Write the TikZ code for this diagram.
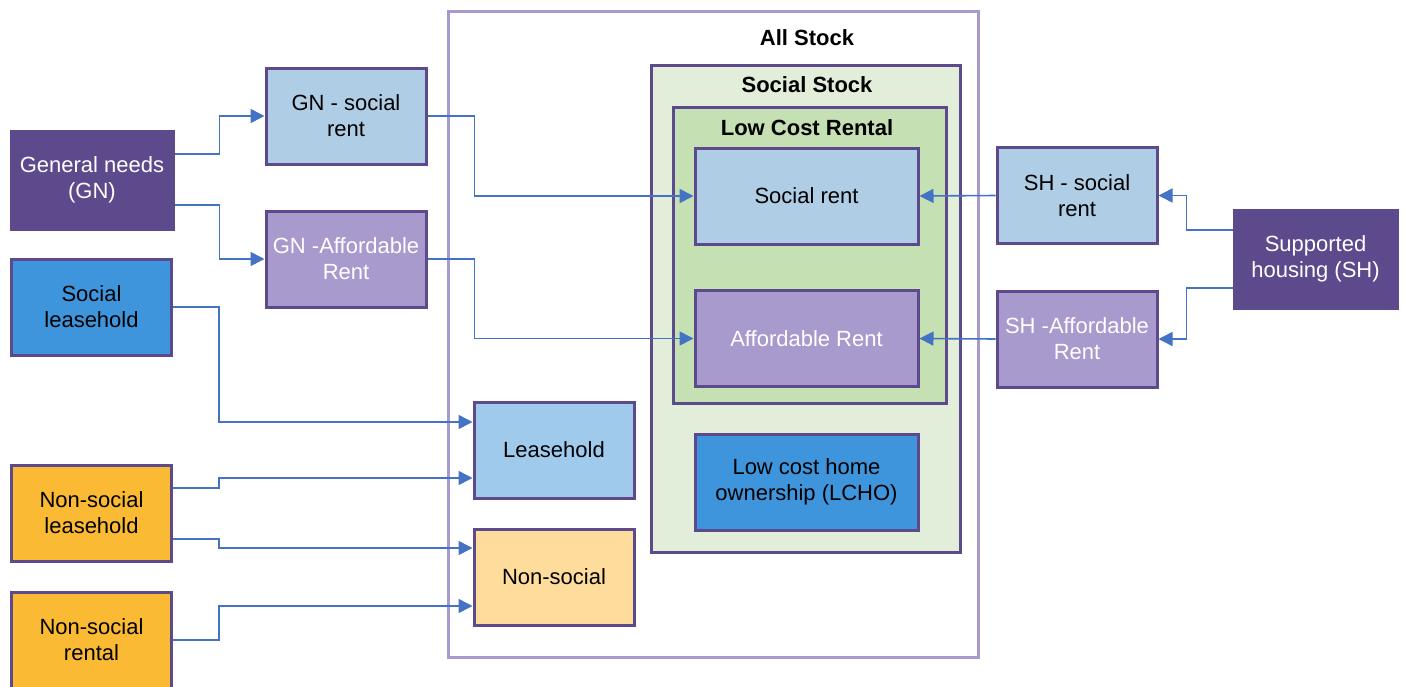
\documentclass[tikz,border=0pt]{standalone}
\usepackage{fontspec}
\setmainfont{Liberation Sans}
\usetikzlibrary{arrows.meta}

\definecolor{darkpurple}{RGB}{92,74,140}
\definecolor{lavender}{RGB}{168,154,205}
\definecolor{paleblue}{RGB}{175,206,230}
\definecolor{leaseblue}{RGB}{160,202,236}
\definecolor{midblue}{RGB}{63,149,219}
\definecolor{gold}{RGB}{251,186,51}
\definecolor{paleorange}{RGB}{254,221,156}
\definecolor{stockgreen}{RGB}{226,238,217}
\definecolor{rentalgreen}{RGB}{197,224,179}
\definecolor{linkblue}{RGB}{68,114,196}

\tikzset{
  box/.style={draw=darkpurple, line width=3pt, minimum width=160pt, minimum height=96pt,
    align=center, inner sep=2pt, font=\fontsize{22}{26}\selectfont},
  widebox/.style={box, minimum width=223pt},
  link/.style={draw=linkblue, line width=1.6pt, -{Triangle[length=14pt,width=14pt]}},
  heading/.style={font=\bfseries\fontsize{22}{26}\selectfont}
}

\begin{document}
\begin{tikzpicture}[x=1pt, y=-1pt]
\useasboundingbox (0,0) rectangle (1405,686);

% stock containers
\draw[draw=lavender, line width=3pt] (448,11) rectangle (978,657);
\draw[draw=darkpurple, fill=stockgreen, line width=3pt] (651,65) rectangle (960,552);
\draw[draw=darkpurple, fill=rentalgreen, line width=3pt] (673,107) rectangle (946,403);
\node[heading] (allstock) at (807,38) {All Stock};
\node[heading] (socstock) at (807,85) {Social Stock};
\node[heading] (lcrental) at (807,128) {Low Cost Rental};

% inner boxes
\node[widebox, fill=paleblue] (socrent) at (806.5,196) {Social rent};
\node[widebox, fill=lavender, text=white] (affrent) at (806.5,338.5) {Affordable Rent};
\node[widebox, fill=midblue] (lcho) at (806.5,482) {Low cost home\\ownership (LCHO)};
\node[box, fill=leaseblue] (lease) at (554,450) {Leasehold};
\node[box, fill=paleorange] (nonsoc) at (554,577) {Non-social};

% left side
\node[box, fill=darkpurple, draw=darkpurple, text=white, minimum width=162pt, minimum height=98pt] (gen) at (92,180) {General needs\\(GN)};
\node[box, fill=paleblue] (gnsoc) at (346,116) {GN - social\\rent};
\node[box, fill=lavender, text=white] (gnaff) at (346,259) {GN -Affordable\\Rent};
\node[box, fill=midblue] (socls) at (91.5,307) {Social\\leasehold};
\node[box, fill=gold] (nsls) at (91.5,513) {Non-social\\leasehold};
\node[box, fill=gold] (nsrt) at (91.5,640) {Non-social\\rental};

% right side
\node[box, fill=paleblue] (shsoc) at (1077,195.5) {SH - social\\rent};
\node[box, fill=lavender, text=white] (shaff) at (1077,339) {SH -Affordable\\Rent};
\node[box, fill=darkpurple, draw=darkpurple, text=white, minimum width=163pt, minimum height=98pt] (supp) at (1315.5,259) {Supported\\housing (SH)};

% connectors
\draw[link] ([yshift=26pt]gen.east) -- ++(45,0) |- (gnsoc.west);
\draw[link] ([yshift=-25pt]gen.east) -- ++(45,0) |- (gnaff.west);
\draw[link] (gnsoc.east) -- ++(47,0) |- (socrent.west);
\draw[link] (gnaff.east) -- ++(47,0) |- (affrent.west);
\draw[link] (socls.east) -- ++(46,0) |- ([yshift=28pt]lease.west);
\draw[link] ([yshift=25pt]nsls.east) -- ++(46,0) |- ([yshift=-28pt]lease.west);
\draw[link] ([yshift=-26pt]nsls.east) -- ++(46,0) |- ([yshift=29pt]nonsoc.west);
\draw[link] (nsrt.east) -- ++(46,0) |- ([yshift=-29pt]nonsoc.west);
\draw[link] (shsoc.west) -- (socrent.east);
\draw[link] (shaff.west) -- (affrent.east);
\draw[link] ([yshift=29pt]supp.west) -- ++(-46,0) |- (shsoc.east);
\draw[link] ([yshift=-29pt]supp.west) -- ++(-46,0) |- (shaff.east);

\end{tikzpicture}
\end{document}
